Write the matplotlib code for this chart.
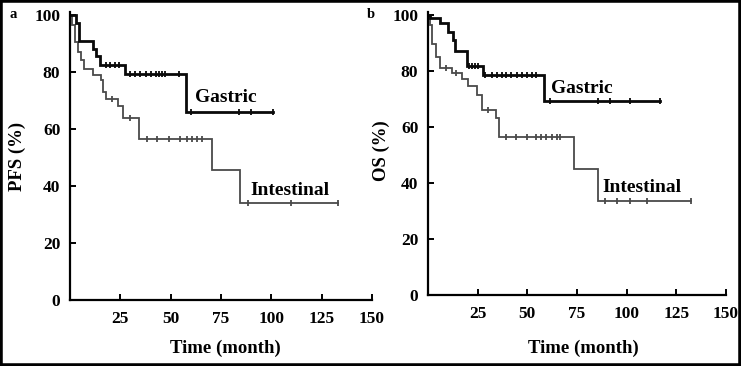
import numpy as np
import matplotlib
matplotlib.use("Agg")
import matplotlib.pyplot as plt
from matplotlib.patches import Rectangle

# ---------------- data ----------------
x_ticks = [25, 50, 75, 100, 125, 150]
y_ticks = [0, 20, 40, 60, 80, 100]

# Panel a: PFS
pfs_gas_t = [0, 3, 4.5, 11.5, 13, 15, 27.4, 57.5]
pfs_gas_v = [100, 97, 91, 88, 85.5, 82.5, 79.3, 66]
pfs_gas_end = 101
pfs_gas_cens = [18, 20, 22.5, 24.5, 30, 32.5, 35, 37.5, 40, 42.5, 44, 45.5, 47, 54,
                60, 84, 90, 101]

pfs_int_t = [0, 1, 2.5, 4, 5.5, 7, 11.5, 15.5, 16.5, 18, 24, 26.5, 34.5, 70.5, 84.5]
pfs_int_v = [100, 96.5, 90.5, 87, 84, 81, 79, 77, 73, 70.5, 68, 64, 56.5, 45.5, 34]
pfs_int_end = 133
pfs_int_cens = [21, 30, 38, 43, 49, 54.5, 58, 60.5, 63, 65.5, 88.5, 110, 133]

# Panel b: OS
os_gas_t = [0, 1, 6, 10, 12.5, 13.5, 19.5, 27.5, 58.5]
os_gas_v = [100, 98.8, 97, 94, 91, 87, 81.6, 78.4, 69.4]
os_gas_end = 117
os_gas_cens = [20.5, 22, 23.5, 25, 28.6, 32, 34.5, 37, 39.5, 42, 44.6, 47.1, 49.6,
               52.1, 54.6, 61.3, 85.6, 91.5, 101.5, 117]

os_int_t = [0, 1, 2, 4, 6, 12, 17, 20, 24.5, 27, 34, 35.5, 73.5, 85.5]
os_int_v = [100, 96.5, 89.5, 85, 81, 79.2, 77, 74.5, 71.5, 66, 63, 56.5, 45, 33.7]
os_int_end = 132.5
os_int_cens = [9, 14, 30, 39.5, 44.5, 49.6, 54.6, 57, 59.6, 62.2, 64.7, 66.4,
               89, 95, 101.5, 110, 132.5]

panel_letters = ["a", "b"]
y_labels = ["PFS (%)", "OS (%)"]
x_label = "Time (month)"
group_names = ["Gastric", "Intestinal"]

# ---------------- drawing ----------------
plt.rcParams["font.family"] = ["Liberation Serif", "DejaVu Serif"]
plt.rcParams["font.weight"] = "bold"

fig = plt.figure(figsize=(7.41, 3.66), dpi=100)
fig.patch.set_facecolor("white")

ax_a = fig.add_axes([70 / 741, 1 - 300 / 366, 302 / 741, 288 / 366])
ax_b = fig.add_axes([428 / 741, 1 - 295 / 366, 298 / 741, 283 / 366])


def step_value(t, v, x):
    idx = np.searchsorted(np.asarray(t), x, side="right") - 1
    return np.asarray(v)[np.clip(idx, 0, len(v) - 1)]


def draw_curve(ax, t, v, end, cens, color, lw):
    tt = list(t) + [end]
    vv = list(v) + [v[-1]]
    ax.step(tt, vv, where="post", color=color, lw=lw, solid_joinstyle="miter")
    cy = step_value(t, v, np.asarray(cens))
    ax.plot(cens, cy, ls="none", marker="|", ms=4.5, mew=1.3, color=color)


series = [
    (ax_a, (pfs_gas_t, pfs_gas_v, pfs_gas_end, pfs_gas_cens),
     (pfs_int_t, pfs_int_v, pfs_int_end, pfs_int_cens)),
    (ax_b, (os_gas_t, os_gas_v, os_gas_end, os_gas_cens),
     (os_int_t, os_int_v, os_int_end, os_int_cens)),
]

for ax, gas, inte in series:
    draw_curve(ax, *inte, color="#4a4a4a", lw=1.3)
    draw_curve(ax, *gas, color="#0a0a0a", lw=2.0)
    ax.set_xlim(0, 150)
    ax.set_ylim(0, 101)
    ax.set_xticks(x_ticks)
    ax.set_yticks(y_ticks)
    for s in ["top", "right"]:
        ax.spines[s].set_visible(False)
    for s in ["left", "bottom"]:
        ax.spines[s].set_linewidth(1.6)
    ax.tick_params(direction="in", length=4, width=1.4, labelsize=12.5)
    ax.tick_params(axis="x", pad=8)
    ax.tick_params(axis="y", pad=7)
    for lab in ax.get_xticklabels() + ax.get_yticklabels():
        lab.set_fontweight("bold")
    ax.patch.set_alpha(0)

ax_a.text(62, 71, group_names[0], fontsize=14, fontweight="bold", va="center", ha="left")
ax_a.text(89.5, 38.5, group_names[1], fontsize=14, fontweight="bold", va="center", ha="left")
ax_b.text(62, 73.8, group_names[0], fontsize=14, fontweight="bold", va="center", ha="left")
ax_b.text(88, 38.5, group_names[1], fontsize=14, fontweight="bold", va="center", ha="left")

# axis labels
fig.text(17 / 741, 1 - 156 / 366, y_labels[0], rotation=90, ha="center", va="center",
         fontsize=13.5, fontweight="bold")
fig.text(381 / 741, 1 - 151 / 366, y_labels[1], rotation=90, ha="center", va="center",
         fontsize=13.5, fontweight="bold")
fig.text(225 / 741, 1 - 348 / 366, x_label, ha="center", va="center",
         fontsize=13.5, fontweight="bold")
fig.text(583 / 741, 1 - 348 / 366, x_label, ha="center", va="center",
         fontsize=13.5, fontweight="bold")

# panel letters
fig.text(13 / 741, 1 - 15 / 366, panel_letters[0], ha="center", va="center",
         fontsize=10.5, fontweight="bold")
fig.text(371 / 741, 1 - 15 / 366, panel_letters[1], ha="center", va="center",
         fontsize=10.5, fontweight="bold")

# outer frame
fig.patches.append(Rectangle((0, 0), 1, 1, transform=fig.transFigure, fill=False,
                             lw=4, edgecolor="black"))

fig.savefig("out.png", dpi=100, facecolor="white")
